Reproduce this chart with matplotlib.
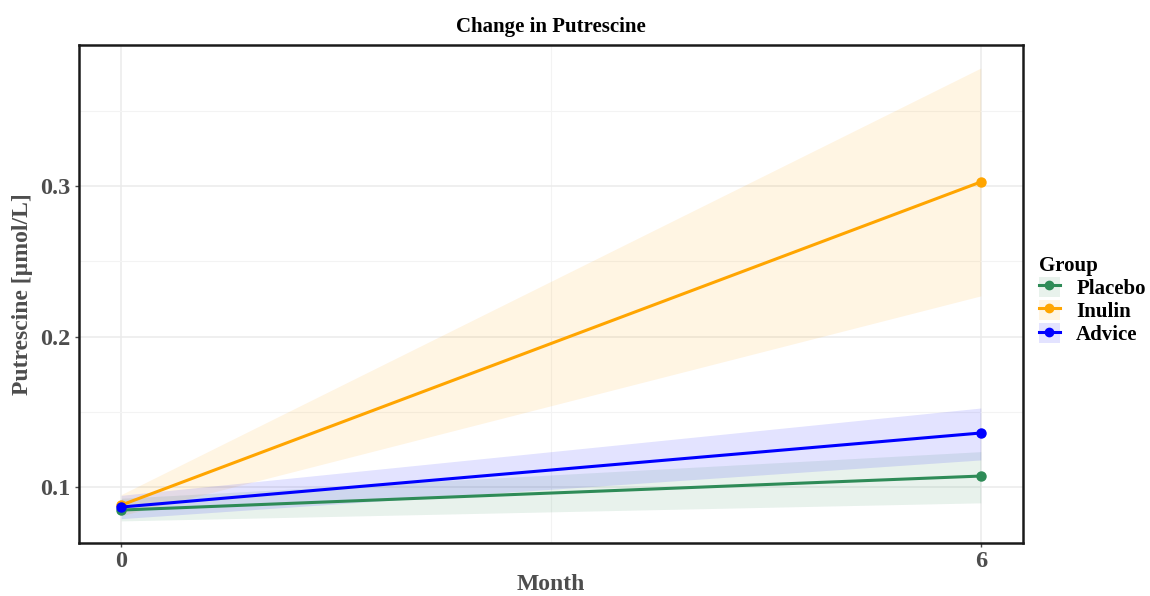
import numpy as np
import matplotlib.pyplot as plt
from matplotlib.lines import Line2D
from matplotlib.patches import Patch

# Group means and confidence bands at month 0 and 6
months = [0, 6]
groups = ['Placebo', 'Inulin', 'Advice']
colors = ['#2e8b57', '#ffa500', '#0000ff']

placebo_mean = [0.0847, 0.1073]
placebo_lo = [0.0775, 0.0895]
placebo_hi = [0.0925, 0.1235]

inulin_mean = [0.0880, 0.3027]
inulin_lo = [0.0810, 0.2270]
inulin_hi = [0.0950, 0.3784]

advice_mean = [0.0867, 0.1359]
advice_lo = [0.0790, 0.1180]
advice_hi = [0.0945, 0.1525]

means = [placebo_mean, inulin_mean, advice_mean]
lows = [placebo_lo, inulin_lo, advice_lo]
highs = [placebo_hi, inulin_hi, advice_hi]

plt.rcParams['font.family'] = ['Liberation Serif', 'DejaVu Serif']

fig = plt.figure(figsize=(11.5, 5.96), dpi=100)
ax = fig.add_axes([0.0687, 0.0889, 0.8209, 0.8356])

for name, col, m, lo, hi in zip(groups, colors, means, lows, highs):
    ax.fill_between(months, lo, hi, color=col, alpha=0.11, linewidth=0, zorder=2)
    ax.plot(months, m, color=col, linewidth=2.2, marker='o', markersize=6.5, zorder=3)

ax.set_xlim(-0.295, 6.295)
ax.set_ylim(0.0628, 0.3937)
ax.set_xticks([0, 6])
ax.set_xticks([3], minor=True)
ax.set_yticks([0.1, 0.2, 0.3])
ax.set_yticklabels(['0.1', '0.2', '0.3'])
ax.set_yticks([0.15, 0.25, 0.35], minor=True)
ax.grid(which='major', color='#ebebeb', linewidth=1.1, zorder=0)
ax.grid(which='minor', color='#f3f3f3', linewidth=0.8, zorder=0)
ax.set_axisbelow(True)

ax.tick_params(which='major', length=3, width=1, pad=3, color='#4d4d4d', labelsize=17.5, labelcolor='#4d4d4d')
ax.tick_params(which='minor', length=0)
for lab in ax.get_xticklabels() + ax.get_yticklabels():
    lab.set_fontweight('bold')
for sp in ax.spines.values():
    sp.set_linewidth(1.8)
    sp.set_color('#1a1a1a')

ax.set_xlabel('Month', fontsize=17, fontweight='bold', color='#4d4d4d', labelpad=1)
ax.set_ylabel('Putrescine [µmol/L]', fontsize=17, fontweight='bold', color='#4d4d4d', labelpad=5)
ax.set_title('Change in Putrescine', fontsize=15, fontweight='bold', color='black', pad=9)

handles = []
for col in colors:
    handles.append((Patch(facecolor=col, alpha=0.11, edgecolor='none'),
                    Line2D([], [], color=col, linewidth=2.2, marker='o', markersize=6)))
leg = fig.legend(handles, groups, loc='upper left', bbox_to_anchor=(0.896, 0.585),
                 frameon=False, title='Group', handlelength=1.0, handleheight=1.1,
                 handletextpad=0.8, labelspacing=0.05, borderaxespad=0,
                 prop={'size': 15, 'weight': 'bold'})
leg.get_title().set_fontsize(15)
leg.get_title().set_fontweight('bold')
leg._legend_box.align = 'left'

plt.savefig('out.png', dpi=100)
